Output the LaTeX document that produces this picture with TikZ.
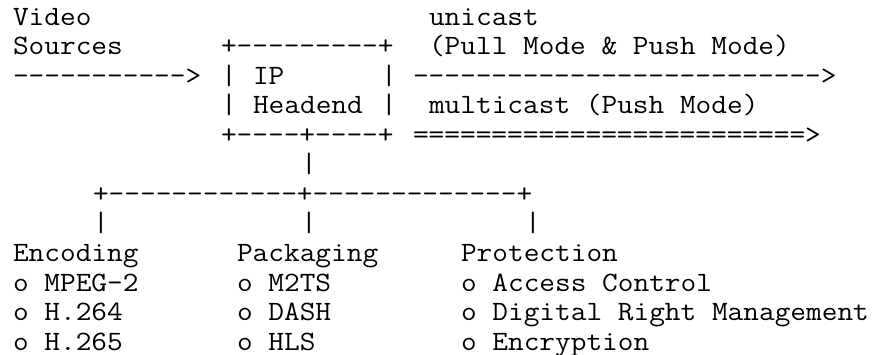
\documentclass[tikz,border=0pt]{standalone}
\usepackage{fontspec}
% serif typewriter face, widened to a 16pt character pitch
\setmonofont{Latin Modern Mono}[FakeStretch=1.088]
\usetikzlibrary{calc}

% character grid: 16pt per column, 29.5pt per row
\newcommand{\colw}{16}
\newcommand{\rowh}{29.5}
\newcommand{\xoff}{13}
\newcommand{\yoff}{25.5}
% \cell{name}{column}{row}{text}
\newcommand{\cell}[4]{%
  \node[txt] (#1) at ({(\xoff+#2*\colw)*1pt},{-(\yoff+#3*\rowh)*1pt}) {#4};}

\begin{document}
\begin{tikzpicture}[
  txt/.style={anchor=base west, inner sep=0pt, outer sep=0pt,
    font=\ttfamily\fontsize{28pt}{28pt}\selectfont, text=black}
]
\useasboundingbox (0,0) rectangle (877pt,-355pt);

% sources and distribution labels
\cell{video}{0}{0}{Video}
\cell{unicast}{26}{0}{unicast}
\cell{sources}{0}{1}{Sources}
\cell{boxtop}{13}{1}{+---------+}
\cell{pullpush}{26}{1}{(Pull Mode \& Push Mode)}

% headend box with input and output arrows
\cell{inarrow}{0}{2}{----------->}
\cell{boxl1}{13}{2}{|}
\cell{ip}{15}{2}{IP}
\cell{boxr1}{23}{2}{|}
\cell{ucarrow}{25}{2}{-------------------------->}
\cell{boxl2}{13}{3}{|}
\cell{headend}{15}{3}{Headend}
\cell{boxr2}{23}{3}{|}
\cell{multicast}{26}{3}{multicast (Push Mode)}
\cell{boxbot}{13}{4}{+----+----+}
\cell{mcarrow}{25}{4}{=========================>}

% branching tree
\cell{stem}{18}{5}{|}
\cell{branch}{5}{6}{+------------+-------------+}
\cell{legenc}{5}{7}{|}
\cell{legpkg}{18}{7}{|}
\cell{legprot}{32}{7}{|}

% three functions
\cell{enc}{0}{8}{Encoding}
\cell{pkg}{14}{8}{Packaging}
\cell{prot}{28}{8}{Protection}
\cell{enca}{0}{9}{o MPEG-2}
\cell{pkga}{14}{9}{o M2TS}
\cell{prota}{28}{9}{o Access Control}
\cell{encb}{0}{10}{o H.264}
\cell{pkgb}{14}{10}{o DASH}
\cell{protb}{28}{10}{o Digital Right Management}
\cell{encc}{0}{11}{o H.265}
\cell{pkgc}{14}{11}{o HLS}
\cell{protc}{28}{11}{o Encryption}
\end{tikzpicture}
\end{document}
